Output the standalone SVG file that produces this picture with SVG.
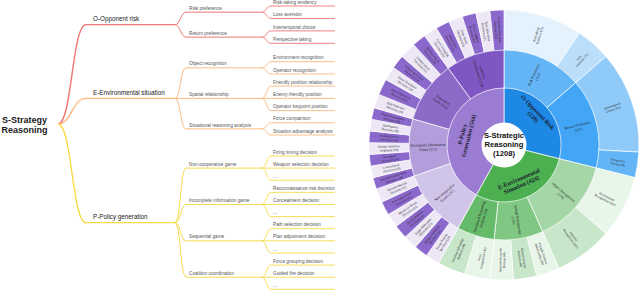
<svg xmlns="http://www.w3.org/2000/svg" width="640" height="290" viewBox="0 0 640 290">
<style>
.t1{font-family:"Liberation Sans",Arial,sans-serif;font-size:6.3px;fill:#222}
.t2{font-family:"Liberation Sans",Arial,sans-serif;font-size:4.7px;fill:#555}
.root{font-family:"Liberation Sans",Arial,sans-serif;font-size:9px;font-weight:bold;fill:#1a1a1a;text-anchor:middle}
.lo{stroke:#f27474;fill:none}
.le{stroke:#fcb97d;fill:none}
.lp{stroke:#f8da4a;fill:none}
.w1{stroke-width:1.4}
.w2{stroke-width:1}
.w3{stroke-width:0.9}
.seg path{stroke:#fff;stroke-width:0.7}
.c{font-family:"Liberation Sans",Arial,sans-serif;font-weight:bold;font-size:7.6px;fill:#111;text-anchor:middle}
.s1{font-family:"Liberation Serif","Times New Roman",serif;font-weight:bold;font-size:6px;fill:#1a1a2e;text-anchor:middle}
.s2{font-family:"Liberation Serif","Times New Roman",serif;font-size:3.7px;fill:#222;text-anchor:middle}
.s3{font-family:"Liberation Serif","Times New Roman",serif;font-size:3.2px;fill:#222;text-anchor:middle}
.L{fill:#ede7f6}
.D{fill:#8b68cb}
.gw{fill:#e8f5e9}
.gl{fill:#c8e6c9}
</style>
<rect width="640" height="290" fill="#fff"/>

<!-- ===== Mind map connectors ===== -->
<g id="tree-connectors">
<path class="lo w1" d="M58,124 C72,124 72,24.65 86,24.65"/>
<path class="le w1" d="M58,124 C72,124 72,98.36 86,98.36"/>
<path class="lp w1" d="M58,124 C72,124 72,222.66 86,222.66"/>
<path class="lo w2" d="M175,24.65 C180.5,24.65 180.5,12.2 186,12.2"/>
<path class="lo w2" d="M175,24.65 C180.5,24.65 180.5,37.1 186,37.1"/>
<path class="le w2" d="M175,98.36 C180.5,98.36 180.5,67.8 186,67.8"/>
<path class="le w2" d="M175,98.36 L186,98.36"/>
<path class="le w2" d="M175,98.36 C180.5,98.36 180.5,128.9 186,128.9"/>
<path class="lp w2" d="M175,222.66 C180.5,222.66 180.5,168.12 186,168.12"/>
<path class="lp w2" d="M175,222.66 C180.5,222.66 180.5,204.48 186,204.48"/>
<path class="lp w2" d="M175,222.66 C180.5,222.66 180.5,240.84 186,240.84"/>
<path class="lp w2" d="M175,222.66 C180.5,222.66 180.5,277.2 186,277.2"/>
<path class="lo w3" d="M262,12.2 C266.5,12.2 266.5,6 271,6"/>
<path class="lo w3" d="M262,12.2 C266.5,12.2 266.5,18.43 271,18.43"/>
<path class="lo w3" d="M262,37.1 C266.5,37.1 266.5,30.87 271,30.87"/>
<path class="lo w3" d="M262,37.1 C266.5,37.1 266.5,43.3 271,43.3"/>
<path class="le w3" d="M262,67.8 C266.5,67.8 266.5,61.7 271,61.7"/>
<path class="le w3" d="M262,67.8 C266.5,67.8 266.5,73.92 271,73.92"/>
<path class="le w3" d="M262,98.36 C266.5,98.36 266.5,86.14 271,86.14"/>
<path class="le w3" d="M262,98.36 L271,98.36"/>
<path class="le w3" d="M262,98.36 C266.5,98.36 266.5,110.58 271,110.58"/>
<path class="le w3" d="M262,128.9 C266.5,128.9 266.5,122.8 271,122.8"/>
<path class="le w3" d="M262,128.9 C266.5,128.9 266.5,135.02 271,135.02"/>
<path class="lp w3" d="M262,168.12 C266.5,168.12 266.5,156 271,156"/>
<path class="lp w3" d="M262,168.12 L271,168.12"/>
<path class="lp w3" d="M262,168.12 C266.5,168.12 266.5,180.24 271,180.24"/>
<path class="lp w3" d="M262,204.48 C266.5,204.48 266.5,192.36 271,192.36"/>
<path class="lp w3" d="M262,204.48 L271,204.48"/>
<path class="lp w3" d="M262,204.48 C266.5,204.48 266.5,216.6 271,216.6"/>
<path class="lp w3" d="M262,240.84 C266.5,240.84 266.5,228.72 271,228.72"/>
<path class="lp w3" d="M262,240.84 L271,240.84"/>
<path class="lp w3" d="M262,240.84 C266.5,240.84 266.5,252.96 271,252.96"/>
<path class="lp w3" d="M262,277.2 C266.5,277.2 266.5,265.08 271,265.08"/>
<path class="lp w3" d="M262,277.2 L271,277.2"/>
<path class="lp w3" d="M262,277.2 C266.5,277.2 266.5,289.32 271,289.32"/>
</g>

<!-- ===== Mind map nodes ===== -->
<g id="n-root"><text class="root" x="24.5" y="122.5">S-Strategy</text><text class="root" x="24.5" y="132.5">Reasoning</text></g>

<g id="n-o"><path class="lo w1" d="M86,24.65 H175"/><text class="t1" x="93" y="21.4">O-Opponent risk</text></g>
<g id="n-e"><path class="le w1" d="M86,98.36 H175"/><text class="t1" x="93" y="95.1">E-Environmental situation</text></g>
<g id="n-p"><path class="lp w1" d="M86,222.66 H175"/><text class="t1" x="93" y="219.4">P-Policy generation</text></g>

<g id="n-o1"><path class="lo w2" d="M186,12.2 H262"/><text class="t2" x="189" y="9.8">Risk preference</text></g>
<g id="n-o2"><path class="lo w2" d="M186,37.1 H262"/><text class="t2" x="189" y="34.7">Return preference</text></g>
<g id="n-e1"><path class="le w2" d="M186,67.8 H262"/><text class="t2" x="189" y="65.4">Object recognition</text></g>
<g id="n-e2"><path class="le w2" d="M186,98.36 H262"/><text class="t2" x="189" y="96">Spatial relationship</text></g>
<g id="n-e3"><path class="le w2" d="M186,128.9 H262"/><text class="t2" x="189" y="126.5">Situational reasoning analysis</text></g>
<g id="n-p1"><path class="lp w2" d="M186,168.12 H262"/><text class="t2" x="189" y="165.7">Non-cooperative game</text></g>
<g id="n-p2"><path class="lp w2" d="M186,204.48 H262"/><text class="t2" x="189" y="202.1">Incomplete information game</text></g>
<g id="n-p3"><path class="lp w2" d="M186,240.84 H262"/><text class="t2" x="189" y="238.4">Sequential game</text></g>
<g id="n-p4"><path class="lp w2" d="M186,277.2 H262"/><text class="t2" x="189" y="274.8">Coalition coordination</text></g>

<g id="n-o1a"><path class="lo w3" d="M271,6 H335"/><text class="t2" x="273" y="3.6">Risk-taking tendency</text></g>
<g id="n-o1b"><path class="lo w3" d="M271,18.43 H335"/><text class="t2" x="273" y="16">Loss aversion</text></g>
<g id="n-o2a"><path class="lo w3" d="M271,30.87 H335"/><text class="t2" x="273" y="28.5">Intertemporal choice</text></g>
<g id="n-o2b"><path class="lo w3" d="M271,43.3 H335"/><text class="t2" x="273" y="40.9">Perspective taking</text></g>
<g id="n-e1a"><path class="le w3" d="M271,61.7 H335"/><text class="t2" x="273" y="59.3">Environment recognition</text></g>
<g id="n-e1b"><path class="le w3" d="M271,73.92 H335"/><text class="t2" x="273" y="71.5">Operator recognition</text></g>
<g id="n-e2a"><path class="le w3" d="M271,86.14 H335"/><text class="t2" x="273" y="83.7">Friendly position relationship</text></g>
<g id="n-e2b"><path class="le w3" d="M271,98.36 H335"/><text class="t2" x="273" y="96">Enemy-friendly position</text></g>
<g id="n-e2c"><path class="le w3" d="M271,110.58 H335"/><text class="t2" x="273" y="108.2">Operator keypoint position</text></g>
<g id="n-e3a"><path class="le w3" d="M271,122.8 H335"/><text class="t2" x="273" y="120.4">Force comparison</text></g>
<g id="n-e3b"><path class="le w3" d="M271,135.02 H335"/><text class="t2" x="273" y="132.6">Situation advantage analysis</text></g>
<g id="n-p1a"><path class="lp w3" d="M271,156 H335"/><text class="t2" x="273" y="153.6">Firing timing decision</text></g>
<g id="n-p1b"><path class="lp w3" d="M271,168.12 H335"/><text class="t2" x="273" y="165.7">Weapon selection decision</text></g>
<g id="n-p1c"><path class="lp w3" d="M271,180.24 H335"/><text class="t2" x="273" y="177.8">...</text></g>
<g id="n-p2a"><path class="lp w3" d="M271,192.36 H335"/><text class="t2" x="273" y="190">Reconnaissance risk decision</text></g>
<g id="n-p2b"><path class="lp w3" d="M271,204.48 H335"/><text class="t2" x="273" y="202.1">Concealment decision</text></g>
<g id="n-p2c"><path class="lp w3" d="M271,216.6 H335"/><text class="t2" x="273" y="214.2">...</text></g>
<g id="n-p3a"><path class="lp w3" d="M271,228.72 H335"/><text class="t2" x="273" y="226.3">Path selection decision</text></g>
<g id="n-p3b"><path class="lp w3" d="M271,240.84 H335"/><text class="t2" x="273" y="238.4">Plan adjustment decision</text></g>
<g id="n-p3c"><path class="lp w3" d="M271,252.96 H335"/><text class="t2" x="273" y="250.6">...</text></g>
<g id="n-p4a"><path class="lp w3" d="M271,265.08 H335"/><text class="t2" x="273" y="262.7">Force grouping decision</text></g>
<g id="n-p4b"><path class="lp w3" d="M271,277.2 H335"/><text class="t2" x="273" y="274.8">Guided fire decision</text></g>
<g id="n-p4c"><path class="lp w3" d="M271,289.32 H335"/><text class="t2" x="273" y="286.9">...</text></g>

<!-- ===== Sunburst ===== -->
<g id="sunburst">
<g id="ring3" class="seg">
<path fill="#e3f2fd" d="M504,145 L504,10 A135,135 0 0 1 579.49,33.08 Z"/>
<path fill="#bbdefb" d="M504,145 L579.49,33.08 A135,135 0 0 1 605.88,56.43 Z"/>
<path fill="#90caf9" d="M504,145 L605.88,56.43 A135,135 0 0 1 638.81,152.06 Z"/>
<path fill="#64b5f6" d="M504,145 L638.81,152.06 A135,135 0 0 1 634.99,177.66 Z"/>
<path class="gw" d="M504,145 L634.99,177.66 A135,135 0 0 1 605.88,233.57 Z"/>
<path class="gl" d="M504,145 L605.88,233.57 A135,135 0 0 1 558.90,268.32 Z"/>
<path class="gw" d="M504,145 L558.90,268.32 A135,135 0 0 1 536.66,275.99 Z"/>
<path class="gl" d="M504,145 L536.66,275.99 A135,135 0 0 1 513.42,279.68 Z"/>
<path class="gw" d="M504,145 L513.42,279.68 A135,135 0 0 1 489.89,279.26 Z"/>
<path class="gw" d="M504,145 L489.89,279.26 A135,135 0 0 1 464.53,274.10 Z"/>
<path class="gl" d="M504,145 L464.53,274.10 A135,135 0 0 1 438.55,263.07 Z"/>
<path class="L" d="M504,145 L438.55,263.07 A135,135 0 0 1 426.56,255.59 Z"/>
<path class="D" d="M504,145 L426.56,255.59 A135,135 0 0 1 415.43,246.88 Z"/>
<path class="L" d="M504,145 L415.43,246.88 A135,135 0 0 1 405.26,237.07 Z"/>
<path class="D" d="M504,145 L405.26,237.07 A135,135 0 0 1 396.19,226.24 Z"/>
<path class="L" d="M504,145 L396.19,226.24 A135,135 0 0 1 388.28,214.53 Z"/>
<path class="D" d="M504,145 L388.28,214.53 A135,135 0 0 1 381.65,202.05 Z"/>
<path class="L" d="M504,145 L381.65,202.05 A135,135 0 0 1 376.36,188.96 Z"/>
<path class="D" d="M504,145 L376.36,188.96 A135,135 0 0 1 373.01,177.66 Z"/>
<path class="L" d="M504,145 L373.01,177.66 A135,135 0 0 1 370.66,166.11 Z"/>
<path class="D" d="M504,145 L370.66,166.11 A135,135 0 0 1 369.32,154.42 Z"/>
<path class="L" d="M504,145 L369.32,154.42 A135,135 0 0 1 369.03,142.64 Z"/>
<path class="D" d="M504,145 L369.03,142.64 A135,135 0 0 1 369.74,130.89 Z"/>
<path class="L" d="M504,145 L369.74,130.89 A135,135 0 0 1 371.48,119.24 Z"/>
<path class="D" d="M504,145 L371.48,119.24 A135,135 0 0 1 374.22,107.79 Z"/>
<path class="L" d="M504,145 L374.22,107.79 A135,135 0 0 1 378.83,94.43 Z"/>
<path class="D" d="M504,145 L378.83,94.43 A135,135 0 0 1 385.93,79.55 Z"/>
<path class="L" d="M504,145 L385.93,79.55 A135,135 0 0 1 393.41,67.56 Z"/>
<path class="D" d="M504,145 L393.41,67.56 A135,135 0 0 1 402.12,56.43 Z"/>
<path class="L" d="M504,145 L402.12,56.43 A135,135 0 0 1 413.67,44.68 Z"/>
<path class="D" d="M504,145 L413.67,44.68 A135,135 0 0 1 424.65,35.78 Z"/>
<path class="L" d="M504,145 L424.65,35.78 A135,135 0 0 1 436.5,28.09 Z"/>
<path class="D" d="M504,145 L436.5,28.09 A135,135 0 0 1 449.10,21.68 Z"/>
<path class="L" d="M504,145 L449.10,21.68 A135,135 0 0 1 462.28,16.60 Z"/>
<path class="D" d="M504,145 L462.28,16.60 A135,135 0 0 1 475.93,12.96 Z"/>
<path class="L" d="M504,145 L475.93,12.96 A135,135 0 0 1 489.89,10.74 Z"/>
<path class="D" d="M504,145 L489.89,10.74 A135,135 0 0 1 504,10 Z"/>
</g>
<g id="ring2" class="seg">
<path fill="#64b5f6" d="M504,145 L504,50 A95,95 0 0 1 575.70,82.67 Z"/>
<path fill="#42a5f5" d="M504,145 L575.70,82.67 A95,95 0 0 1 596.18,167.98 Z"/>
<path fill="#a5d6a7" d="M504,145 L596.18,167.98 A95,95 0 0 1 542.64,231.78 Z"/>
<path fill="#81c784" d="M504,145 L542.64,231.78 A95,95 0 0 1 494.07,239.48 Z"/>
<path fill="#66bb6a" d="M504,145 L494.07,239.48 A95,95 0 0 1 457.94,228.09 Z"/>
<path fill="#d1c4e9" d="M504,145 L457.94,228.09 A95,95 0 0 1 414.18,175.93 Z"/>
<path fill="#b39ddb" d="M504,145 L414.18,175.93 A95,95 0 0 1 412.68,118.82 Z"/>
<path fill="#8c6bc8" d="M504,145 L412.68,118.82 A95,95 0 0 1 448.16,68.14 Z"/>
<path fill="#7e57c2" d="M504,145 L448.16,68.14 A95,95 0 0 1 504,50 Z"/>
</g>
<g id="ring1" class="seg">
<path fill="#1e88e5" d="M504,145 L504,88 A57,57 0 0 1 559.31,158.79 Z"/>
<path fill="#4caf50" d="M504,145 L559.31,158.79 A57,57 0 0 1 476.37,194.85 Z"/>
<path fill="#9a7dd3" d="M504,145 L476.37,194.85 A57,57 0 0 1 504,88 Z"/>
</g>
<circle cx="504" cy="145" r="22.5" fill="#fff"/>

<g id="sb-center"><text class="c" x="504" y="137.5">S-Strategic</text><text class="c" x="504" y="146.5">Reasoning</text><text class="c" x="504" y="155.5">(1208)</text></g>

<g id="sb-ring1-labels">
<text class="s1" transform="translate(535.65,114.43) rotate(46)"><tspan x="0" y="-1">O-Opponent Risk</tspan><tspan x="0" y="5.5">(220)</tspan></text>
<text class="s1" transform="translate(519.95,181.69) rotate(-23.5)"><tspan x="0" y="-1">E-Environmental</tspan><tspan x="0" y="5.5">Situation (424)</tspan></text>
<text class="s1" transform="translate(465.27,134.99) rotate(-75.5)"><tspan x="0" y="-1">P-Policy</tspan><tspan x="0" y="5.5">Generation (564)</tspan></text>
</g>

<g id="sb-ring2-labels">
<text class="s2" transform="translate(535.52,75.84) rotate(-65.5)"><tspan x="0" y="-0.8">Risk Preference</tspan><tspan x="0" y="3.7">(103)</tspan></text>
<text class="s2" transform="translate(577.90,127.26) rotate(-13.5)"><tspan x="0" y="-0.8">Return Preference</tspan><tspan x="0" y="3.7">(117)</tspan></text>
<text class="s2" transform="translate(562.22,193.85) rotate(40)"><tspan x="0" y="-0.8">Object Recognition</tspan><tspan x="0" y="3.7">(210)</tspan></text>
<text class="s2" transform="translate(515.89,220.07) rotate(81)"><tspan x="0" y="-0.8">Spatial Relationship</tspan><tspan x="0" y="3.7">(120)</tspan></text>
<text class="s2" transform="translate(481.15,217.48) rotate(-72.5)"><tspan x="0" y="-0.8">Situational Reasoning</tspan><tspan x="0" y="3.7">Analysis (94)</tspan></text>
<text class="s2" transform="translate(445.78,193.85) rotate(-40)"><tspan x="0" y="-0.8">Non-cooperative</tspan><tspan x="0" y="3.7">Game (157)</tspan></text>
<text class="s2" transform="translate(428.03,146.99) rotate(-1.5)"><tspan x="0" y="-0.8">Incomplete Information</tspan><tspan x="0" y="3.7">Game (131)</tspan></text>
<text class="s2" transform="translate(441.74,101.41) rotate(35)"><tspan x="0" y="-0.8">Sequential</tspan><tspan x="0" y="3.7">Game (142)</tspan></text>
<text class="s2" transform="translate(480.52,72.72) rotate(72)"><tspan x="0" y="-0.8">Coalition</tspan><tspan x="0" y="3.7">Coordination (134)</tspan></text>
</g>

<g id="sb-ring3-labels">
<text class="s3" transform="translate(537.63,35.03) rotate(-73)"><tspan x="0" y="-0.6">Risk-taking</tspan><tspan x="0" y="3.2">Tendency (72)</tspan></text>
<text class="s3" transform="translate(580.20,58.86) rotate(-48.5)"><tspan x="0" y="-0.6">Loss</tspan><tspan x="0" y="3.2">Aversion (31)</tspan></text>
<text class="s3" transform="translate(612.73,107.56) rotate(-19)"><tspan x="0" y="-0.6">Intertemporal</tspan><tspan x="0" y="3.2">Choice (93)</tspan></text>
<text class="s3" transform="translate(617.74,162.0) rotate(8.5)"><tspan x="0" y="-0.6">Perspective</tspan><tspan x="0" y="3.2">Taking (24)</tspan></text>
<text class="s3" transform="translate(606.0,198.1) rotate(27.5)"><tspan x="0" y="-0.6">Environment</tspan><tspan x="0" y="3.2">Recognition (109)</tspan></text>
<text class="s3" transform="translate(572.40,237.45) rotate(53.5)"><tspan x="0" y="-0.6">Operator</tspan><tspan x="0" y="3.2">Recognition (101)</tspan></text>
<text class="s3" transform="translate(541.44,253.73) rotate(71)"><tspan x="0" y="-0.6">Friendly Position</tspan><tspan x="0" y="3.2">Relationship (40)</tspan></text>
<text class="s3" transform="translate(521.99,258.59) rotate(81)"><tspan x="0" y="-0.6">Enemy-friendly</tspan><tspan x="0" y="3.2">Position (40)</tspan></text>
<text class="s3" transform="translate(501.99,259.98) rotate(-89)"><tspan x="0" y="-0.6">Operator Keypoint</tspan><tspan x="0" y="3.2">Position (40)</tspan></text>
<text class="s3" transform="translate(481.07,257.69) rotate(-78.5)"><tspan x="0" y="-0.6">Force</tspan><tspan x="0" y="3.2">Comparison (45)</tspan></text>
<text class="s3" transform="translate(459.07,250.86) rotate(-67)"><tspan x="0" y="-0.6">Situation Advantage</tspan><tspan x="0" y="3.2">Analysis (49)</tspan></text>
<text class="s3" transform="translate(443.06,242.52) rotate(-58)"><tspan x="0" y="-0.6">Firing Timing</tspan><tspan x="0" y="3.2">Decision (23)</tspan></text>
<text class="s3" transform="translate(433.20,235.62) rotate(-52)"><tspan x="0" y="-0.6">Weapon Selection</tspan><tspan x="0" y="3.2">Decision (22)</tspan></text>
<text class="s3" transform="translate(424.11,227.72) rotate(-46)"><tspan x="0" y="-0.6">Target Allocation</tspan><tspan x="0" y="3.2">Decision (23)</tspan></text>
<text class="s3" transform="translate(415.91,218.92) rotate(-40)"><tspan x="0" y="-0.6">Attack/Defense</tspan><tspan x="0" y="3.2">Decision (22)</tspan></text>
<text class="s3" transform="translate(408.66,209.31) rotate(-34)"><tspan x="0" y="-0.6">Maneuver Route</tspan><tspan x="0" y="3.2">Decision (23)</tspan></text>
<text class="s3" transform="translate(402.47,198.99) rotate(-28)"><tspan x="0" y="-0.6">Fire Suppression</tspan><tspan x="0" y="3.2">Decision (22)</tspan></text>
<text class="s3" transform="translate(397.37,188.08) rotate(-22)"><tspan x="0" y="-0.6">Advance/Retreat</tspan><tspan x="0" y="3.2">Decision (22)</tspan></text>
<text class="s3" transform="translate(393.74,177.66) rotate(-16.5)"><tspan x="0" y="-0.6">Reconnaissance Risk</tspan><tspan x="0" y="3.2">Decision (19)</tspan></text>
<text class="s3" transform="translate(391.31,167.93) rotate(-11.5)"><tspan x="0" y="-0.6">Concealment</tspan><tspan x="0" y="3.2">Decision (19)</tspan></text>
<text class="s3" transform="translate(389.74,158.02) rotate(-6.5)"><tspan x="0" y="-0.6">Deception</tspan><tspan x="0" y="3.2">Decision (19)</tspan></text>
<text class="s3" transform="translate(389.03,148.01) rotate(-1.5)"><tspan x="0" y="-0.6">Enemy Intention</tspan><tspan x="0" y="3.2">Judgment (19)</tspan></text>
<text class="s3" transform="translate(389.22,137.98) rotate(3.5)"><tspan x="0" y="-0.6">Probing Attack</tspan><tspan x="0" y="3.2">Decision (19)</tspan></text>
<text class="s3" transform="translate(390.26,128.0) rotate(8.5)"><tspan x="0" y="-0.6">Intelligence</tspan><tspan x="0" y="3.2">Decision (18)</tspan></text>
<text class="s3" transform="translate(392.17,118.16) rotate(13.5)"><tspan x="0" y="-0.6">Threat Assessment</tspan><tspan x="0" y="3.2">Decision (18)</tspan></text>
<text class="s3" transform="translate(395.27,107.56) rotate(19)"><tspan x="0" y="-0.6">Path Selection</tspan><tspan x="0" y="3.2">Decision (24)</tspan></text>
<text class="s3" transform="translate(400.20,95.49) rotate(25.5)"><tspan x="0" y="-0.6">Plan Adjustment</tspan><tspan x="0" y="3.2">Decision (24)</tspan></text>
<text class="s3" transform="translate(406.48,84.06) rotate(32)"><tspan x="0" y="-0.6">Phase Transition</tspan><tspan x="0" y="3.2">Decision (24)</tspan></text>
<text class="s3" transform="translate(413.38,74.20) rotate(38)"><tspan x="0" y="-0.6">Follow-up Action</tspan><tspan x="0" y="3.2">Decision (24)</tspan></text>
<text class="s3" transform="translate(421.97,64.40) rotate(44.5)"><tspan x="0" y="-0.6">Counterattack</tspan><tspan x="0" y="3.2">Decision (23)</tspan></text>
<text class="s3" transform="translate(431.63,55.63) rotate(51)"><tspan x="0" y="-0.6">Reinforcement</tspan><tspan x="0" y="3.2">Decision (23)</tspan></text>
<text class="s3" transform="translate(441.37,48.55) rotate(57)"><tspan x="0" y="-0.6">Force Grouping</tspan><tspan x="0" y="3.2">Decision (23)</tspan></text>
<text class="s3" transform="translate(451.79,42.53) rotate(63)"><tspan x="0" y="-0.6">Guided Fire</tspan><tspan x="0" y="3.2">Decision (22)</tspan></text>
<text class="s3" transform="translate(462.78,37.64) rotate(69)"><tspan x="0" y="-0.6">Joint Strike</tspan><tspan x="0" y="3.2">Decision (23)</tspan></text>
<text class="s3" transform="translate(474.24,33.92) rotate(75)"><tspan x="0" y="-0.6">Cover Support</tspan><tspan x="0" y="3.2">Decision (22)</tspan></text>
<text class="s3" transform="translate(486.01,31.41) rotate(81)"><tspan x="0" y="-0.6">Task Allocation</tspan><tspan x="0" y="3.2">Decision (22)</tspan></text>
<text class="s3" transform="translate(497.99,30.16) rotate(87)"><tspan x="0" y="-0.6">Coalition Adversary</tspan><tspan x="0" y="3.2">Decision (22)</tspan></text>
</g>
</g>
</svg>
